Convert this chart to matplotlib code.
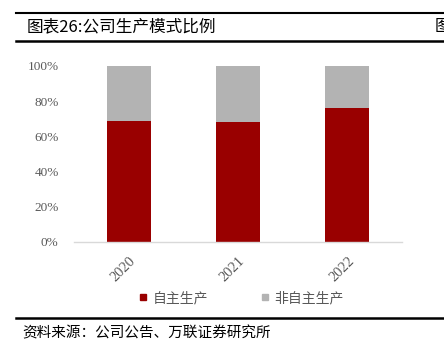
import matplotlib
matplotlib.use("Agg")
import matplotlib.pyplot as plt
from matplotlib.lines import Line2D
import numpy as np

plt.rcParams['font.family'] = ['Liberation Serif', 'Noto Sans CJK SC', 'DejaVu Sans']

categories = ['2020', '2021', '2022']
self_prod = [0.69, 0.68, 0.76]
non_self = [0.31, 0.32, 0.24]
series_names = ['自主生产', '非自主生产']
yticks = [0, 0.2, 0.4, 0.6, 0.8, 1.0]
ytick_labels = ['0%', '20%', '40%', '60%', '80%', '100%']

red = '#990000'
gray = '#b3b3b3'

fig = plt.figure(figsize=(4.44, 3.53), dpi=100)
W, H = 444, 353

ax = fig.add_axes([74 / W, 1 - 242 / H, (402 - 74) / W, (242 - 66) / H])
x = np.arange(len(categories))
ax.bar(x, self_prod, width=0.4, color=red, label=series_names[0])
ax.bar(x, non_self, width=0.4, bottom=self_prod, color=gray, label=series_names[1])
ax.set_xlim(-0.5, 2.5)
ax.set_ylim(0, 1)
ax.set_yticks(yticks)
ax.set_yticklabels(ytick_labels, fontsize=9.5, color='#595959')
ax.set_xticks(x)
ax.set_xticklabels(categories, rotation=45, fontsize=10.5, color='#595959', ha='right',
                   rotation_mode='anchor')
ax.tick_params(axis='y', length=0, pad=11)
ax.tick_params(axis='x', length=0, pad=9)
for s in ['top', 'right', 'left']:
    ax.spines[s].set_visible(False)
ax.spines['bottom'].set_color('#d9d9d9')
ax.spines['bottom'].set_linewidth(1)

handles = [Line2D([], [], marker='s', linestyle='none', color=red, markersize=5),
           Line2D([], [], marker='s', linestyle='none', color=gray, markersize=5)]
fig.legend(handles, series_names, loc='center', bbox_to_anchor=(240 / W, 1 - 298 / H),
           ncol=2, frameon=False, handlelength=1.0, handletextpad=0.2, columnspacing=3.6,
           labelcolor='#595959', prop={'family': ['Noto Sans CJK SC'], 'size': 10})

# header / footer rules
fig.add_artist(Line2D([16 / W, 1], [1 - 12.5 / H] * 2, color='black', lw=1.5))
fig.add_artist(Line2D([16 / W, 1], [1 - 40.5 / H] * 2, color='black', lw=1.8))
fig.add_artist(Line2D([16 / W, 1], [1 - 318 / H] * 2, color='black', lw=1.8))

fig.text(27 / W, 1 - 27 / H, '图表26:公司生产模式比例', fontsize=12, va='center', ha='left',
         family=['Noto Sans CJK SC'])
fig.text(435 / W, 1 - 27 / H, '图', fontsize=12, va='center', ha='left',
         family=['Noto Sans CJK SC'])
fig.text(22 / W, 1 - 333 / H, '资料来源：公司公告、万联证券研究所', fontsize=10.5, va='center', ha='left',
         family=['Noto Sans CJK SC'], style='italic')

fig.savefig('out.png', dpi=100)
